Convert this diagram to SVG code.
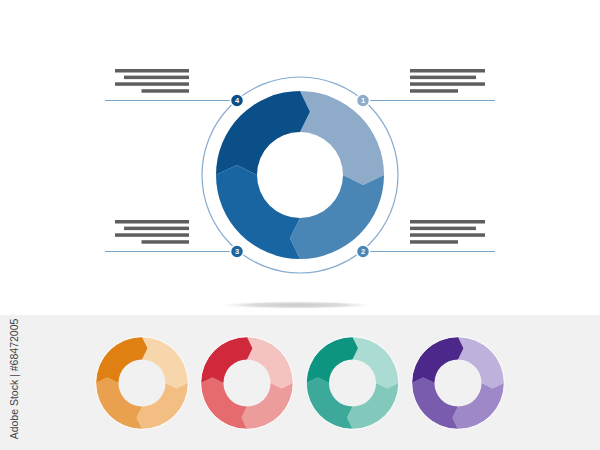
<svg xmlns="http://www.w3.org/2000/svg" width="600" height="450" viewBox="0 0 600 450">
<defs>
<radialGradient id="sh" cx="0.5" cy="0.5" r="0.5">
<stop offset="0" stop-color="#c8c8c8"/>
<stop offset="0.6" stop-color="#dedede"/>
<stop offset="1" stop-color="#ffffff" stop-opacity="0"/>
</radialGradient>
<g id="donut">
<path style="fill:var(--c1)" d="M300,91 A84,84 0 0 1 384,175 L363.2,185 L343,175 A43,43 0 0 0 300,132 L310,111.8 Z"/>
<path style="fill:var(--c2)" d="M384,175 A84,84 0 0 1 300,259 L290,238.2 L300,218 A43,43 0 0 0 343,175 L363.2,185 Z"/>
<path style="fill:var(--c3)" d="M300,259 A84,84 0 0 1 216,175 L236.8,165 L257,175 A43,43 0 0 0 300,218 L290,238.2 Z"/>
<path style="fill:var(--c4)" d="M216,175 A84,84 0 0 1 300,91 L310,111.8 L300,132 A43,43 0 0 0 257,175 L236.8,165 Z"/>
</g>
</defs>
<style>
.bar{fill:#5f5f5f}
.lead{stroke:#7aa3c8;stroke-width:1;fill:none}
.ring{stroke:#86abcf;stroke-width:1.2;fill:none}
.badge{stroke:#ffffff;stroke-width:1.5}
.num{font-family:"Liberation Sans",Arial,sans-serif;font-size:7.5px;font-weight:bold;fill:#ffffff;text-anchor:middle}
.edge{fill:none;stroke:#ffffff;stroke-width:1.6}
#blue{--c1:#8eabca;--c2:#4a86b5;--c3:#1965a2;--c4:#0a4f88}
#orange{--c1:#f8d6ab;--c2:#f2be82;--c3:#e9a14f;--c4:#e07f12}
#red{--c1:#f5c2c2;--c2:#ec9c9a;--c3:#e56b6e;--c4:#d1293c}
#teal{--c1:#aadcd3;--c2:#82c8bb;--c3:#3ca99a;--c4:#0e9581}
#purple{--c1:#beb1dc;--c2:#9e88c7;--c3:#7a5cae;--c4:#4b2889}
</style>
<rect x="0" y="0" width="600" height="450" fill="#ffffff"/>
<rect x="0" y="315" width="600" height="135" fill="#f1f1f1"/>
<ellipse cx="297" cy="305" rx="82" ry="4" fill="url(#sh)"/>
<g id="connectors">
<line class="lead" x1="105" y1="100.5" x2="237" y2="100.5"/>
<line class="lead" x1="363" y1="100.5" x2="495" y2="100.5"/>
<line class="lead" x1="105" y1="251.5" x2="237" y2="251.5"/>
<line class="lead" x1="363" y1="251.5" x2="495" y2="251.5"/>
<circle class="ring" cx="300" cy="175" r="98"/>
</g>
<g id="main-donut">
<use href="#donut" id="blue"/>
</g>
<g id="badge1"><circle class="badge" cx="363" cy="100.5" r="6.5" fill="#8eabca"/><text class="num" x="363" y="103.2">1</text></g>
<g id="badge2"><circle class="badge" cx="363" cy="251.5" r="6.5" fill="#4a86b5"/><text class="num" x="363" y="254.2">2</text></g>
<g id="badge3"><circle class="badge" cx="237" cy="251.5" r="6.5" fill="#1965a2"/><text class="num" x="237" y="254.2">3</text></g>
<g id="badge4"><circle class="badge" cx="237" cy="100.5" r="6.5" fill="#0a4f88"/><text class="num" x="237" y="103.2">4</text></g>
<g id="text4">
<rect class="bar" x="115" y="69" width="74" height="3.5"/>
<rect class="bar" x="124" y="75.6" width="65" height="3.5"/>
<rect class="bar" x="115" y="82.3" width="74" height="3.5"/>
<rect class="bar" x="141.5" y="89.2" width="47.5" height="3.5"/>
</g>
<g id="text1">
<rect class="bar" x="410" y="69" width="75" height="3.5"/>
<rect class="bar" x="410" y="75.6" width="66" height="3.5"/>
<rect class="bar" x="410" y="82.3" width="75" height="3.5"/>
<rect class="bar" x="410" y="89.2" width="48" height="3.5"/>
</g>
<g id="text3">
<rect class="bar" x="115" y="220" width="74" height="3.5"/>
<rect class="bar" x="124" y="226.6" width="65" height="3.5"/>
<rect class="bar" x="115" y="233.3" width="74" height="3.5"/>
<rect class="bar" x="141.5" y="240.2" width="47.5" height="3.5"/>
</g>
<g id="text2">
<rect class="bar" x="410" y="220" width="75" height="3.5"/>
<rect class="bar" x="410" y="226.6" width="66" height="3.5"/>
<rect class="bar" x="410" y="233.3" width="75" height="3.5"/>
<rect class="bar" x="410" y="240.2" width="48" height="3.5"/>
</g>
<g id="orange" transform="translate(142,383) scale(0.548) translate(-300,-175)"><use href="#donut"/><circle class="edge" cx="300" cy="175" r="84.5"/></g>
<g id="red" transform="translate(247,383) scale(0.548) translate(-300,-175)"><use href="#donut"/><circle class="edge" cx="300" cy="175" r="84.5"/></g>
<g id="teal" transform="translate(352.5,383) scale(0.548) translate(-300,-175)"><use href="#donut"/><circle class="edge" cx="300" cy="175" r="84.5"/></g>
<g id="purple" transform="translate(458,383) scale(0.548) translate(-300,-175)"><use href="#donut"/><circle class="edge" cx="300" cy="175" r="84.5"/></g>
<text x="18" y="379" transform="rotate(-90 18 379)" font-family="'Liberation Sans',Arial,sans-serif" font-size="10.5" fill="#444444" text-anchor="middle">Adobe Stock | #68472005</text>
</svg>
